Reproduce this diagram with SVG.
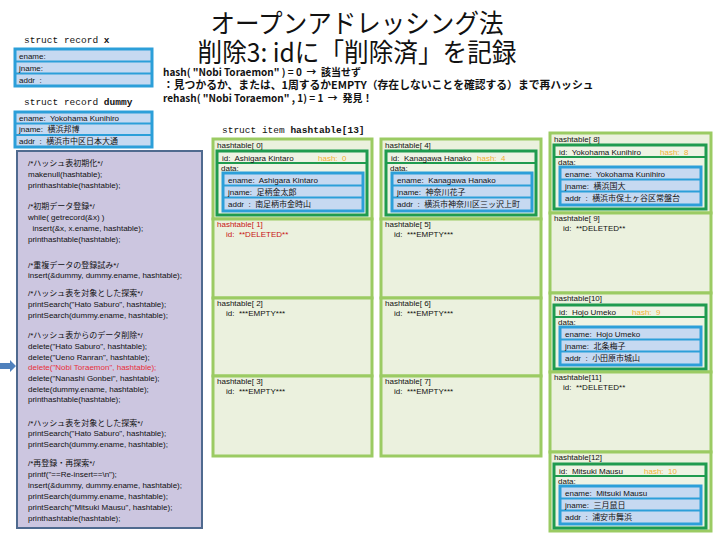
<svg xmlns="http://www.w3.org/2000/svg" width="720" height="540" viewBox="0 0 720 540">
<style>
text{white-space:pre}
.title{font-family:"Noto Sans CJK JP","Liberation Sans",sans-serif;font-size:26px;fill:#111}
.hl{font-family:"Noto Sans CJK JP","Liberation Sans",sans-serif;font-size:10px;font-weight:bold;fill:#111}
.hl2{font-size:10.8px}
.mono{font-family:"Liberation Mono","Noto Sans CJK JP",monospace;font-size:9.5px;fill:#111}
.code{font-family:"Liberation Sans","Noto Sans CJK JP",sans-serif;font-size:8px;fill:#111}
.red{fill:#E8303A}
.t{font-family:"Liberation Sans","Noto Sans CJK JP",sans-serif;font-size:8px;fill:#111}
.tr{fill:#C81414}
.hash{fill:#F2B134}
.cell{fill:#EBF1DE;stroke:#9BCB63;stroke-width:3}
.dg{fill:#EEF3E4;stroke:#1F9B4F;stroke-width:3}
.dgl{stroke:#1F9B4F;stroke-width:2}
.bl{fill:#C6D9F1;stroke:#2C9FD9;stroke-width:3}
.bll{stroke:#2C9FD9;stroke-width:2}
.code-box{fill:#CCC6E0;stroke:#4F6A8F;stroke-width:2}
</style>

<g id="title">
<text class="title" x="357" y="33" text-anchor="middle" textLength="293" lengthAdjust="spacingAndGlyphs">オープンアドレッシング法</text>
<text class="title" x="357" y="62" text-anchor="middle" textLength="319" lengthAdjust="spacingAndGlyphs">削除3: idに「削除済」を記録</text>
</g>

<g id="hash-notes">
<text class="hl" x="163" y="76">hash( "Nobi Toraemon" ) = 0  →  該当せず</text>
<text class="hl hl2" x="163" y="89">：見つかるか、または、1周するかEMPTY（存在しないことを確認する）まで再ハッシュ</text>
<text class="hl" x="163" y="102">rehash( "Nobi Toraemon" , 1) = 1  →  発見！</text>
</g>

<g id="record-x">
<text class="mono" x="24" y="43">struct record <tspan font-weight="bold">x</tspan></text>
<rect class="bl" x="15" y="49" width="137" height="37"/>
<line class="bll" x1="15" y1="61.5" x2="152" y2="61.5"/>
<line class="bll" x1="15" y1="73.5" x2="152" y2="73.5"/>
<text class="t" x="19" y="59">ename:</text>
<text class="t" x="19" y="71">jname:</text>
<text class="t" x="19" y="83">addr  :</text>
</g>

<g id="record-dummy">
<text class="mono" x="24" y="105">struct record <tspan font-weight="bold">dummy</tspan></text>
<rect class="bl" x="15" y="112" width="137" height="35"/>
<line class="bll" x1="15" y1="123.5" x2="152" y2="123.5"/>
<line class="bll" x1="15" y1="135" x2="152" y2="135"/>
<text class="t" x="19" y="121">ename:  Yokohama Kunihiro</text>
<text class="t" x="19" y="132">jname:  横浜邦博</text>
<text class="t" x="19" y="144">addr  :  横浜市中区日本大通</text>
</g>

<g id="code">
<rect class="code-box" x="17" y="151" width="185" height="377"/>
<text class="code" x="28" y="166">/*ハッシュ表初期化*/</text>
<text class="code" x="28" y="177">makenull(hashtable);</text>
<text class="code" x="28" y="188">printhashtable(hashtable);</text>
<text class="code" x="28" y="209">/*初期データ登録*/</text>
<text class="code" x="28" y="220">while( getrecord(&amp;x) )</text>
<text class="code" x="28" y="231">  insert(&amp;x, x.ename, hashtable);</text>
<text class="code" x="28" y="242">printhashtable(hashtable);</text>
<text class="code" x="28" y="268">/*重複データの登録試み*/</text>
<text class="code" x="28" y="278">insert(&amp;dummy, dummy.ename, hashtable);</text>
<text class="code" x="28" y="296">/*ハッシュ表を対象とした探索*/</text>
<text class="code" x="28" y="307">printSearch("Hato Saburo", hashtable);</text>
<text class="code" x="28" y="318">printSearch(dummy.ename, hashtable);</text>
<text class="code" x="28" y="338">/*ハッシュ表からのデータ削除*/</text>
<text class="code" x="28" y="349">delete("Hato Saburo", hashtable);</text>
<text class="code" x="28" y="360">delete("Ueno Ranran", hashtable);</text>
<text class="code red" x="28" y="370">delete("Nobi Toraemon", hashtable);</text>
<text class="code" x="28" y="381">delete("Nanashi Gonbei", hashtable);</text>
<text class="code" x="28" y="392">delete(dummy.ename, hashtable);</text>
<text class="code" x="28" y="402">printhashtable(hashtable);</text>
<text class="code" x="28" y="426">/*ハッシュ表を対象とした探索*/</text>
<text class="code" x="28" y="436">printSearch("Hato Saburo", hashtable);</text>
<text class="code" x="28" y="447">printSearch(dummy.ename, hashtable);</text>
<text class="code" x="28" y="466">/*再登録・再探索*/</text>
<text class="code" x="28" y="477">printf("==Re-insert==\n");</text>
<text class="code" x="28" y="488">insert(&amp;dummy, dummy.ename, hashtable);</text>
<text class="code" x="28" y="499">printSearch(dummy.ename, hashtable);</text>
<text class="code" x="28" y="510">printSearch("Mitsuki Mausu", hashtable);</text>
<text class="code" x="28" y="521">printhashtable(hashtable);</text>
</g>

<g id="connectors">
<path d="M0,363 L10,363 L10,360 L16,366 L10,372 L10,369 L0,369 Z" fill="#4F81BD"/>
</g>

<g id="hashtable-label">
<text class="mono" x="222" y="133">struct item <tspan font-weight="bold">hashtable[13]</tspan></text>
</g>

<!-- Column 1 -->
<g id="cell-0">
<rect class="cell" x="213" y="139" width="159" height="80"/>
<text class="t" x="217" y="148">hashtable[ 0]</text>
<rect class="dg" x="217" y="151" width="150" height="64"/>
<line class="dgl" x1="217" y1="163" x2="367" y2="163"/>
<text class="t" x="222" y="161">id:  Ashigara Kintaro</text>
<text class="t hash" x="318" y="161">hash:  0</text>
<text class="t" x="221" y="171">data:</text>
<rect class="bl" x="223" y="173" width="140" height="38"/>
<line class="bll" x1="223" y1="185.5" x2="363" y2="185.5"/>
<line class="bll" x1="223" y1="197.5" x2="363" y2="197.5"/>
<text class="t" x="228" y="183">ename:  Ashigara Kintaro</text>
<text class="t" x="228" y="195">jname:  足柄金太郎</text>
<text class="t" x="228" y="207">addr  :  南足柄市金時山</text>
</g>
<g id="cell-1">
<rect class="cell" x="213" y="219" width="159" height="79"/>
<text class="t tr" x="217" y="227">hashtable[ 1]</text>
<text class="t tr" x="226" y="237">id:  **DELETED**</text>
</g>
<g id="cell-2">
<rect class="cell" x="213" y="298" width="159" height="78"/>
<text class="t" x="217" y="306">hashtable[ 2]</text>
<text class="t" x="226" y="316">id:  ***EMPTY***</text>
</g>
<g id="cell-3">
<rect class="cell" x="213" y="376" width="159" height="80"/>
<text class="t" x="217" y="384">hashtable[ 3]</text>
<text class="t" x="226" y="394">id:  ***EMPTY***</text>
</g>

<!-- Column 2 -->
<g id="cell-4">
<rect class="cell" x="381" y="139" width="160" height="80"/>
<text class="t" x="385" y="148">hashtable[ 4]</text>
<rect class="dg" x="386" y="151" width="150" height="64"/>
<line class="dgl" x1="386" y1="163" x2="536" y2="163"/>
<text class="t" x="391" y="161">id:  Kanagawa Hanako</text>
<text class="t hash" x="477" y="161">hash:  4</text>
<text class="t" x="390" y="171">data:</text>
<rect class="bl" x="392" y="173" width="140" height="38"/>
<line class="bll" x1="392" y1="185.5" x2="532" y2="185.5"/>
<line class="bll" x1="392" y1="197.5" x2="532" y2="197.5"/>
<text class="t" x="397" y="183">ename:  Kanagawa Hanako</text>
<text class="t" x="397" y="195">jname:  神奈川花子</text>
<text class="t" x="397" y="207">addr  :  横浜市神奈川区三ッ沢上町</text>
</g>
<g id="cell-5">
<rect class="cell" x="381" y="219" width="160" height="79"/>
<text class="t" x="385" y="227">hashtable[ 5]</text>
<text class="t" x="394" y="237">id:  ***EMPTY***</text>
</g>
<g id="cell-6">
<rect class="cell" x="381" y="298" width="160" height="78"/>
<text class="t" x="385" y="306">hashtable[ 6]</text>
<text class="t" x="394" y="316">id:  ***EMPTY***</text>
</g>
<g id="cell-7">
<rect class="cell" x="381" y="376" width="160" height="80"/>
<text class="t" x="385" y="384">hashtable[ 7]</text>
<text class="t" x="394" y="394">id:  ***EMPTY***</text>
</g>

<!-- Column 3 -->
<g id="cell-8">
<rect class="cell" x="550" y="133" width="161" height="80"/>
<text class="t" x="554" y="142">hashtable[ 8]</text>
<rect class="dg" x="554" y="145" width="152" height="64"/>
<line class="dgl" x1="554" y1="157" x2="706" y2="157"/>
<text class="t" x="559" y="155">id:  Yokohama Kunihiro</text>
<text class="t hash" x="660" y="155">hash:  8</text>
<text class="t" x="558" y="165">data:</text>
<rect class="bl" x="560" y="167" width="141" height="38"/>
<line class="bll" x1="560" y1="179.5" x2="701" y2="179.5"/>
<line class="bll" x1="560" y1="191.5" x2="701" y2="191.5"/>
<text class="t" x="565" y="177">ename:  Yokohama Kunihiro</text>
<text class="t" x="565" y="189">jname:  横浜国大</text>
<text class="t" x="565" y="201">addr  :  横浜市保土ヶ谷区常盤台</text>
</g>
<g id="cell-9">
<rect class="cell" x="550" y="213" width="161" height="80"/>
<text class="t" x="554" y="221">hashtable[ 9]</text>
<text class="t" x="563" y="231">id:  **DELETED**</text>
</g>
<g id="cell-10">
<rect class="cell" x="550" y="293" width="161" height="79"/>
<text class="t" x="554" y="301">hashtable[10]</text>
<rect class="dg" x="554" y="305" width="152" height="64"/>
<line class="dgl" x1="554" y1="317" x2="706" y2="317"/>
<text class="t" x="559" y="315">id:  Hojo Umeko</text>
<text class="t hash" x="632" y="315">hash:  9</text>
<text class="t" x="558" y="325">data:</text>
<rect class="bl" x="560" y="327" width="141" height="38"/>
<line class="bll" x1="560" y1="339.5" x2="701" y2="339.5"/>
<line class="bll" x1="560" y1="351.5" x2="701" y2="351.5"/>
<text class="t" x="565" y="337">ename:  Hojo Umeko</text>
<text class="t" x="565" y="349">jname:  北条梅子</text>
<text class="t" x="565" y="361">addr  :  小田原市城山</text>
</g>
<g id="cell-11">
<rect class="cell" x="550" y="372" width="161" height="80"/>
<text class="t" x="554" y="380">hashtable[11]</text>
<text class="t" x="563" y="390">id:  **DELETED**</text>
</g>
<g id="cell-12">
<rect class="cell" x="550" y="452" width="161" height="79"/>
<text class="t" x="554" y="460">hashtable[12]</text>
<rect class="dg" x="554" y="464" width="152" height="64"/>
<line class="dgl" x1="554" y1="476" x2="706" y2="476"/>
<text class="t" x="559" y="474">id:  Mitsuki Mausu</text>
<text class="t hash" x="644" y="474">hash:  10</text>
<text class="t" x="558" y="484">data:</text>
<rect class="bl" x="560" y="486" width="141" height="38"/>
<line class="bll" x1="560" y1="498.5" x2="701" y2="498.5"/>
<line class="bll" x1="560" y1="510.5" x2="701" y2="510.5"/>
<text class="t" x="565" y="496">ename:  Mitsuki Mausu</text>
<text class="t" x="565" y="508">jname:  三月鼠日</text>
<text class="t" x="565" y="520">addr  :  浦安市舞浜</text>
</g>
</svg>
